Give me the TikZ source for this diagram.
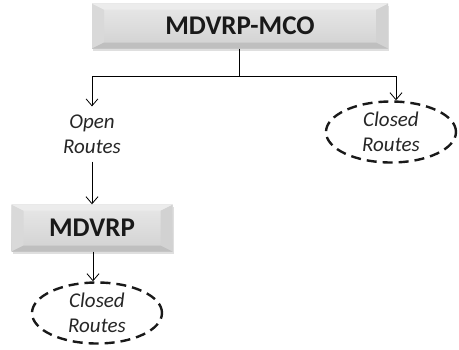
\documentclass[tikz,border=0pt]{standalone}
\usepackage{fontspec}
\setmainfont{Carlito}
\usetikzlibrary{arrows.meta, shapes.geometric, shadows}

\tikzset{
  bevelbox/.style={rectangle, inner sep=0, top color=gray!18, bottom color=gray!36,
    font=\bfseries\fontsize{27}{30}\selectfont, text=black!90,
    drop shadow={shadow xshift=1pt, shadow yshift=-2pt, opacity=0.25},
    path picture={
      \fill[gray!30] (path picture bounding box.south west) -- (path picture bounding box.north west)
        -- ([xshift=12pt,yshift=-6pt]path picture bounding box.north west)
        -- ([xshift=12pt,yshift=6pt]path picture bounding box.south west) -- cycle;
      \fill[gray!35] (path picture bounding box.south east) -- (path picture bounding box.north east)
        -- ([xshift=-12pt,yshift=-6pt]path picture bounding box.north east)
        -- ([xshift=-12pt,yshift=6pt]path picture bounding box.south east) -- cycle;
      \fill[white!85!gray] (path picture bounding box.north west) -- (path picture bounding box.north east)
        -- ([xshift=-12pt,yshift=-6pt]path picture bounding box.north east)
        -- ([xshift=12pt,yshift=-6pt]path picture bounding box.north west) -- cycle;
      \fill[gray!50] (path picture bounding box.south west) -- (path picture bounding box.south east)
        -- ([xshift=-12pt,yshift=6pt]path picture bounding box.south east)
        -- ([xshift=12pt,yshift=6pt]path picture bounding box.south west) -- cycle;
    }},
  routetext/.style={align=center, inner sep=0, font=\itshape\fontsize{21}{25}\selectfont, text=black!85},
  routeoval/.style={ellipse, routetext, draw=black!90, line width=2.4pt, dash pattern=on 10pt off 6pt,
    minimum width=130pt, minimum height=61pt},
  arr/.style={-{Straight Barb[length=7pt,width=12pt]}, line width=0.8pt}
}

\begin{document}
\begin{tikzpicture}[x=1pt, y=-1pt]
\useasboundingbox (0,0) rectangle (459,349);
% boxes
\node[bevelbox, minimum width=296pt, minimum height=45pt] (mco) at (240,26) {MDVRP-MCO};
\node[bevelbox, minimum width=161pt, minimum height=47pt] (mdvrp) at (92,228) {MDVRP};
% route labels
\node[routetext] (open) at (92,134) {Open\\Routes};
\node[routeoval] (closedA) at (391,132) {Closed\\Routes};
\node[routeoval] (closedB) at (97,313) {Closed\\Routes};
% split
\coordinate (split) at (239,76);
\coordinate (lsplit) at (92,76);
\coordinate (rsplit) at (396,76);
\coordinate (bx) at (93,0);
\draw[line width=0.8pt] (mco.south -| split) -- (split);
\draw[line width=0.8pt] (lsplit) -- (rsplit);
\draw[arr] (lsplit) -- ([yshift=8pt]open.north);
\draw[arr] (rsplit) -- (rsplit |- closedA.north);
\draw[arr] ([yshift=-8pt]open.south) -- (mdvrp.north);
\draw[arr] (mdvrp.south -| bx) -- (bx |- closedB.north);
\end{tikzpicture}
\end{document}
